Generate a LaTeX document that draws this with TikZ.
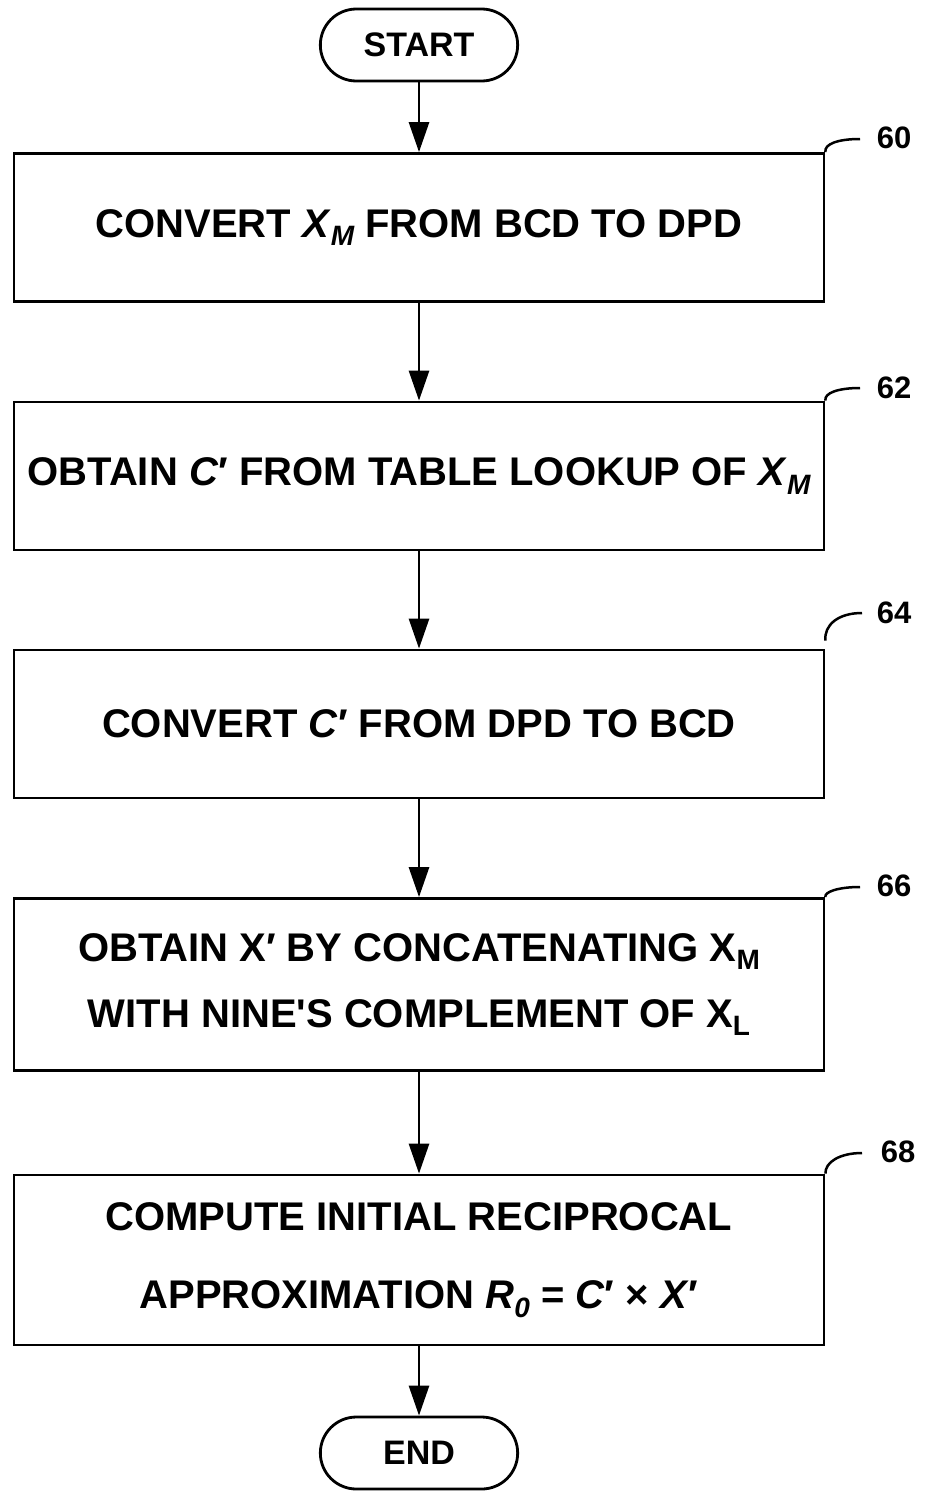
\documentclass[tikz,border=0pt]{standalone}
\usepackage{fontspec}
\newfontfamily\dfont{Liberation Sans}
\usetikzlibrary{arrows.meta,shapes.misc}
\newcommand{\sbi}[1]{\raisebox{-0.22em}{\fontsize{28}{28}\selectfont\itshape #1}}
\newcommand{\sbu}[1]{\raisebox{-0.22em}{\fontsize{28}{28}\selectfont #1}}
\begin{document}
\begin{tikzpicture}[x=1pt,y=-1pt,
  box/.style={draw, line width=2.8pt, minimum width=810pt, font=\dfont\fontsize{40}{48}\selectfont\bfseries, align=center, inner sep=0pt},
  term/.style={draw, rounded rectangle, line width=2.8pt, minimum width=204pt, minimum height=72pt, font=\dfont\fontsize{34}{40}\selectfont\bfseries},
  arr/.style={line width=2.8pt, -{Triangle[length=30pt,width=20pt]}},
  tag/.style={font=\dfont\fontsize{31}{36}\selectfont\bfseries, inner sep=0pt},
  lead/.style={line width=2.5pt}]
\useasboundingbox (0,0) rectangle (926,1494);
\node[term] (start) at (419,45) {START};
\node[box, minimum height=148pt] (b60) at (419,227.5) {CONVERT \textit{X}\sbi{M} FROM BCD TO DPD};
\node[box, minimum height=148pt] (b62) at (419,476) {OBTAIN \textit{C}′ FROM TABLE LOOKUP OF \textit{X}\sbi{M}};
\node[box, minimum height=148pt] (b64) at (419,724) {CONVERT \textit{C}′ FROM DPD TO BCD};
\node[box, minimum height=172pt] (b66) at (419,984.5) {OBTAIN X′ BY CONCATENATING X\sbu{M}\\[18pt] WITH NINE'S COMPLEMENT OF X\sbu{L}};
\node[box, minimum height=170pt] (b68) at (419,1260) {COMPUTE INITIAL RECIPROCAL\\[30pt] APPROXIMATION \textit{R}\sbi{0} = \textit{C}′ × \textit{X}′};
\node[term] (end) at (419,1453) {END};
\draw[arr] (start.south) -- (b60.north);
\draw[arr] (b60.south) -- (b62.north);
\draw[arr] (b62.south) -- (b64.north);
\draw[arr] (b64.south) -- (b66.north);
\draw[arr] (b66.south) -- (b68.north);
\draw[arr] (b68.south) -- (end.north);
\node[tag] (t60) at (894,138) {60};
\node[tag] (t62) at (894,388) {62};
\node[tag] (t64) at (894,613) {64};
\node[tag] (t66) at (894,886) {66};
\node[tag] (t68) at (898,1152) {68};
\coordinate (c60) at (860,139);
\coordinate (c62) at (860,388);
\coordinate (c64) at (862,613);
\coordinate (c66) at (860,887);
\coordinate (c68) at (862,1153);
\draw[lead] (b60.north east) .. controls (824,144) and (838,139) .. (c60);
\draw[lead] (b62.north east) .. controls (824,393) and (838,388) .. (c62);
\draw[lead] ([yshift=8pt]b64.north east) .. controls (824,625) and (838,613) .. (c64);
\draw[lead] (b66.north east) .. controls (824,892) and (838,887) .. (c66);
\draw[lead] (b68.north east) .. controls (825,1162) and (840,1153) .. (c68);
\end{tikzpicture}
\end{document}
